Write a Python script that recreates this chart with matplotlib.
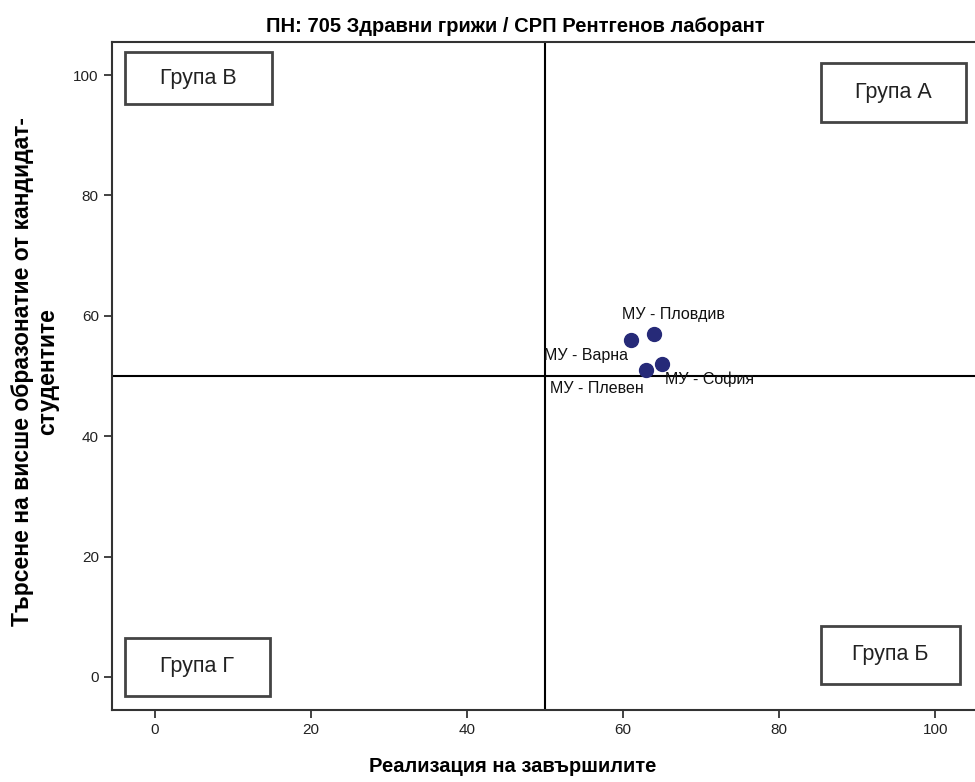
import matplotlib
matplotlib.use("Agg")
import matplotlib.pyplot as plt
from matplotlib.patches import Rectangle

plt.rcParams['font.family'] = ['Liberation Sans', 'DejaVu Sans']

# data
universities = ['МУ - Пловдив', 'МУ - Варна', 'МУ - Плевен', 'МУ - София']
realization = [64, 61, 63, 65]
demand = [57, 56, 51, 52]
group_names = ['Група В', 'Група А', 'Група Г', 'Група Б']
x_ticks = [0, 20, 40, 60, 80, 100]
y_ticks = [0, 20, 40, 60, 80, 100]
threshold_x = 50
threshold_y = 50

title = 'ПН: 705 Здравни грижи / СРП Рентгенов лаборант'
xlabel = 'Реализация на завършилите'
ylabel = 'Търсене на висше образонатие от кандидат-\nстудентите'

W, H = 975, 782
fig = plt.figure(figsize=(W/100, H/100), dpi=100)
ax = fig.add_axes([112/W, 1-710/H, (W-112)/W, (710-42)/H])
ax.set_xlim(-5.5, 105.1)
ax.set_ylim(-5.5, 105.5)

ax.axvline(threshold_x, color='black', lw=1.5, zorder=1)
ax.axhline(threshold_y, color='black', lw=1.5, zorder=1)

ax.scatter(realization, demand, s=100, color='#262a78', zorder=3)

# label offsets (points)
offsets = [(13.7, 13.7, 'center'), (-2, -11.5, 'right'), (-2, -13, 'right'), (2, -11, 'left')]
for name, x, y, (dx, dy, ha) in zip(universities, realization, demand, offsets):
    ax.annotate(name, (x, y), xytext=(dx, dy), textcoords='offset points',
                ha=ha, va='center', fontsize=11.5, color='#111111', zorder=4)

# group boxes (positions in data coords)
boxes = [(-3.85, 95.2, 18.85, 8.6), (85.3, 92.2, 18.7, 9.8),
         (-3.85, -3.2, 18.6, 9.7), (85.3, -1.2, 17.9, 9.7)]
for gname, (bx, by, bw, bh) in zip(group_names, boxes):
    ax.add_patch(Rectangle((bx, by), bw, bh, fill=False, edgecolor='#444444', lw=2, zorder=2))
    ax.text(bx + bw/2, by + bh/2, gname, ha='center', va='center', fontsize=15.5,
            color='#222222', zorder=4)

ax.set_xticks(x_ticks)
ax.set_yticks(y_ticks)
ax.tick_params(direction='out', length=6, width=1.2, labelsize=11, colors='#222222')
ax.spines['right'].set_visible(False)
for s in ['left', 'bottom', 'top']:
    ax.spines[s].set_linewidth(1.5)
    ax.spines[s].set_color('#333333')

fig.text(515/W, 1-26/H, title, ha='center', va='center', fontsize=14.5, fontweight='bold')
fig.text(513/W, 1-766/H, xlabel, ha='center', va='center', fontsize=14.5, fontweight='bold')
fig.text(35/W, 1-372/H, ylabel, ha='center', va='center', rotation=90, fontsize=16.5,
         fontweight='bold', linespacing=1.1, multialignment='center')

fig.savefig('out.png', dpi=100)
